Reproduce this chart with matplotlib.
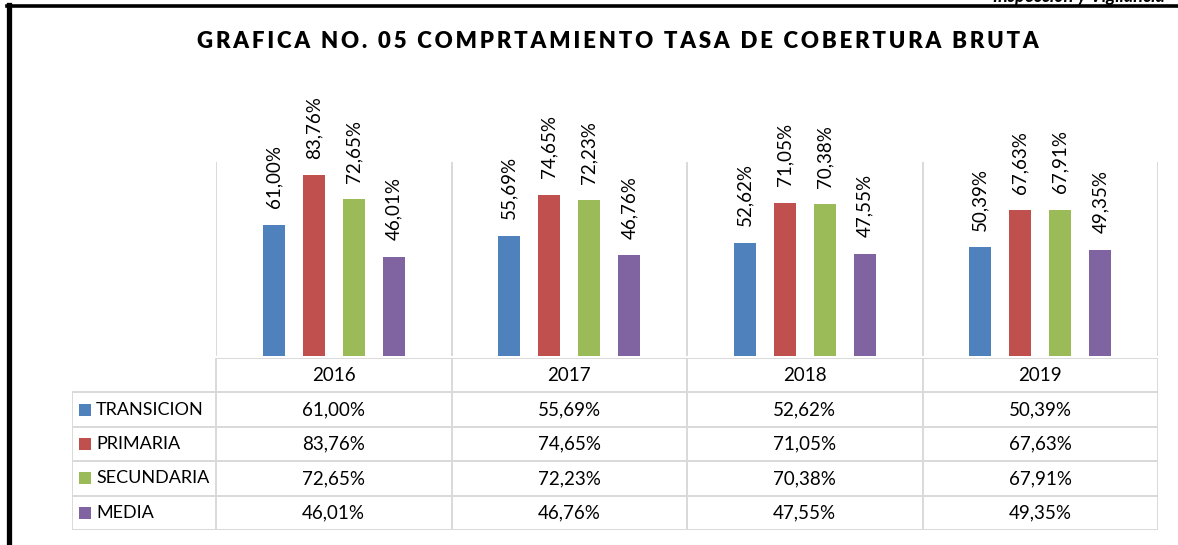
import numpy as np
import matplotlib
matplotlib.use("Agg")
import matplotlib.pyplot as plt

plt.rcParams["font.family"] = ["Lato", "DejaVu Sans"]

# === DATA ===
years = ["2016", "2017", "2018", "2019"]
niveles = ["TRANSICION", "PRIMARIA", "SECUNDARIA", "MEDIA"]
transicion = [61.00, 55.69, 52.62, 50.39]
primaria = [83.76, 74.65, 71.05, 67.63]
secundaria = [72.65, 72.23, 70.38, 67.91]
media = [46.01, 46.76, 47.55, 49.35]
colors = ["#4F81BD", "#C0504D", "#9BBB59", "#8064A2"]

series = [transicion, primaria, secundaria, media]
grid_c = "#D9D9D9"


def pct(v):
    return f"{v:.2f}%".replace(".", ",")


fig = plt.figure(figsize=(11.78, 5.45), dpi=100)
W, H = 1178, 545

# === BARS ===
ax = fig.add_axes([216 / W, 1 - 356 / H, 942 / W, 194 / H])
x = np.arange(len(years))
bw = 0.093
step = 0.17
for i, vals in enumerate(series):
    xs = x + (i - 1.5) * step
    ax.bar(xs, vals, width=bw, color=colors[i], zorder=3)
    for xi, v in zip(xs, vals):
        ax.annotate(pct(v), (xi, v), xytext=(0, 12), textcoords="offset points",
                    rotation=90, ha="center", va="bottom", fontsize=13.5)
ax.set_xlim(-0.5, 3.5)
ax.set_ylim(0, 90)
ax.vlines(np.arange(5) - 0.5, 0, 90, color=grid_c, lw=1.4, zorder=1)
ax.axis("off")

# === TABLE ===
lab_w = 144 / 235.5
tx = fig.add_axes([72 / W, 1 - 530 / H, 1086 / W, 172 / H])
tx.set_xlim(-0.5 - lab_w, 3.5)
tx.set_ylim(0, 5)
tx.axis("off")
left = -0.5 - lab_w
for yy in range(5):
    tx.plot([left, 3.5], [yy, yy], color=grid_c, lw=1.4)
tx.plot([-0.5, 3.5], [5, 5], color=grid_c, lw=1.4)
tx.plot([left, left], [0, 4], color=grid_c, lw=1.4)
for xb in np.arange(5) - 0.5:
    tx.plot([xb, xb], [0, 5], color=grid_c, lw=1.4)

for j, yr in enumerate(years):
    tx.text(j, 4.5, yr, ha="center", va="center", fontsize=13.5)
for i, (name, vals) in enumerate(zip(niveles, series)):
    yc = 3.5 - i
    tx.plot(left + 13 / 235.5, yc, marker="s", ms=8.5, color=colors[i], mew=0)
    tx.text(left + 24 / 235.5, yc, name, ha="left", va="center", fontsize=13)
    for j, v in enumerate(vals):
        tx.text(j, yc, pct(v), ha="center", va="center", fontsize=13.5)

# === TITLE / FRAME ===
title = "GRAFICA NO. 05 COMPRTAMIENTO TASA DE COBERTURA BRUTA"
spaced = "\u2009".join(title)
fig.text(618 / W, 1 - 41 / H, spaced, ha="center", va="center", fontsize=16,
         fontweight="heavy", family=["Lato", "DejaVu Sans"])
fig.text(993 / W, 1 - 2 / H, "Inspección y Vigilancia", ha="left", va="baseline",
         fontsize=13, fontweight="bold", style="italic")
fig.add_artist(plt.Line2D([9 / W, 9 / W], [0, 1 - 5 / H], color="black", lw=3.8))
fig.add_artist(plt.Line2D([7 / W, 1], [1 - 6 / H, 1 - 6 / H], color="black", lw=2.6))

fig.savefig("out.png", dpi=100)
